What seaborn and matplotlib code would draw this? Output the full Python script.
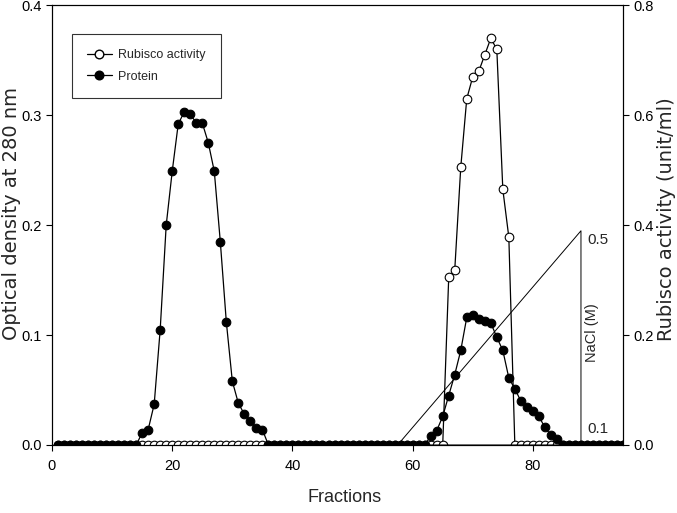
import numpy as np
import seaborn as sns
import matplotlib.pyplot as plt
from matplotlib.lines import Line2D

# fractions collected from the column
fractions = list(range(1, 96))

# protein (OD 280), non-zero fractions only, everything else is 0
prot_peak1_frac = list(range(15, 36))
prot_peak1 = [0.011, 0.014, 0.037, 0.105, 0.200, 0.249, 0.292, 0.303, 0.301, 0.293,
              0.293, 0.275, 0.249, 0.185, 0.112, 0.058, 0.038, 0.028, 0.022, 0.015, 0.014]
prot_peak2_frac = list(range(63, 85))
prot_peak2 = [0.008, 0.013, 0.026, 0.045, 0.064, 0.086, 0.116, 0.118, 0.115, 0.113, 0.111,
              0.098, 0.086, 0.061, 0.051, 0.040, 0.035, 0.031, 0.026, 0.016, 0.009, 0.005]

# rubisco activity (unit/ml)
rub_frac = list(range(66, 77))
rub_act = [0.305, 0.318, 0.505, 0.63, 0.67, 0.68, 0.71, 0.74, 0.72, 0.465, 0.378]

# NaCl gradient
nacl_frac = [57.5, 88, 88, 57.5]
nacl_conc = [0.1, 0.5, 0.1, 0.1]

protein = np.zeros(len(fractions))
rubisco = np.zeros(len(fractions))
for f, v in zip(prot_peak1_frac + prot_peak2_frac, prot_peak1 + prot_peak2):
    protein[f - 1] = v
for f, v in zip(rub_frac, rub_act):
    rubisco[f - 1] = v

sns.set_style("ticks")
wide = ['DejaVu Sans']
plt.rcParams['font.family'] = ['Liberation Sans', 'DejaVu Sans']

fig = plt.figure(figsize=(6.77, 5.13), dpi=100)
ax = fig.add_axes([0.0768, 0.1326, 0.8435, 0.857])
ax2 = ax.twinx()
ax3 = ax.twinx()

ms = 6.2
sns.lineplot(x=fractions, y=rubisco, ax=ax2, color='black', linewidth=0.9,
             marker='o', markersize=ms, markerfacecolor='white',
             markeredgecolor='black', markeredgewidth=0.8)
sns.lineplot(x=fractions, y=protein, ax=ax, color='black', linewidth=0.9,
             marker='o', markersize=ms, markerfacecolor='black',
             markeredgecolor='black', markeredgewidth=0.8)

# NaCl triangle on a hidden scale
sns.lineplot(x=nacl_frac, y=nacl_conc, ax=ax3, color='black', linewidth=0.7,
             sort=False, estimator=None)
ax3.set_ylim(0.1, 0.921)
ax3.axis('off')
ax3.text(89, 0.483, '0.5', fontsize=11, va='center', ha='left')
ax3.text(89, 0.13, '0.1', fontsize=11, va='center', ha='left')
ax3.text(89.8, 0.309, 'NaCl (M)', fontsize=10.5, va='center', ha='center',
         rotation=90)

ax.set_zorder(ax2.get_zorder() + 2)
ax3.set_zorder(ax2.get_zorder() + 1)
ax.patch.set_visible(False)

ax.set_xlim(0, 95)
ax.set_ylim(0, 0.4)
ax2.set_ylim(0, 0.8)
ax.set_xticks([0, 20, 40, 60, 80])
ax.set_yticks([0.0, 0.1, 0.2, 0.3, 0.4])
ax2.set_yticks([0.0, 0.2, 0.4, 0.6, 0.8])
ax.yaxis.set_major_formatter(plt.FormatStrFormatter('%.1f'))
ax2.yaxis.set_major_formatter(plt.FormatStrFormatter('%.1f'))

for a in (ax, ax2):
    a.tick_params(direction='out', length=4, width=0.8, labelsize=10.5, colors='black')
    for s in a.spines.values():
        s.set_visible(True)
        s.set_linewidth(0.8)
        s.set_color('black')
ax.tick_params(axis='x', pad=6)
ax2.set_ylabel('')

fig.text(345 / 677, 1 - 498 / 513, 'Fractions', fontsize=13, ha='center', va='center')
fig.text(12 / 677, 1 - 214 / 513, 'Optical density at 280 nm', fontsize=14,
         ha='center', va='center', rotation=90, family=wide)
fig.text(666 / 677, 1 - 219 / 513, 'Rubisco activity (unit/ml)', fontsize=14,
         ha='center', va='center', rotation=90, family=wide)

handles = [
    Line2D([], [], color='black', linewidth=0.9, marker='o', markersize=ms,
           markerfacecolor='white', markeredgecolor='black'),
    Line2D([], [], color='black', linewidth=0.9, marker='o', markersize=ms,
           markerfacecolor='black', markeredgecolor='black'),
]
leg = ax.legend(handles, ['Rubisco activity', 'Protein'], loc='upper left',
                bbox_to_anchor=(0.035, 0.934), borderaxespad=0, fontsize=9,
                frameon=True, fancybox=False, handlelength=2.0, borderpad=1.2,
                labelspacing=0.75, handletextpad=0.5)
leg.get_frame().set_edgecolor('black')
leg.get_frame().set_linewidth(0.8)

fig.savefig('out.png', dpi=100)
